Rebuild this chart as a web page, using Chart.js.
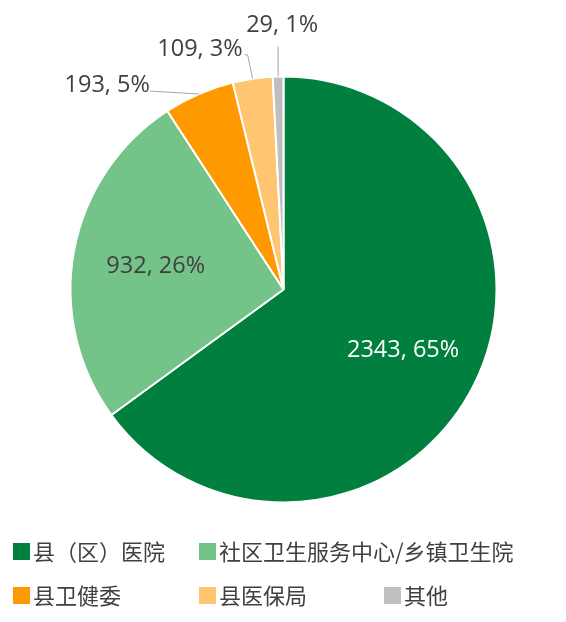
<!DOCTYPE html>
<html>
<head>
<meta charset="utf-8">
<script src="https://cdn.jsdelivr.net/npm/chart.js@4/dist/chart.umd.min.js"></script>
<style>
    html, body { margin: 0; padding: 0; background: #fff; }
    #wrap { position: relative; width: 566px; height: 622px; }
</style>
</head>
<body>
<div id="wrap"><canvas id="pie" width="566" height="622"></canvas></div>
<script>
const categories = ['县（区）医院', '社区卫生服务中心/乡镇卫生院', '县卫健委', '县医保局', '其他'];
const counts     = [2343, 932, 193, 109, 29];
const colors     = ['#007F3F', '#74C389', '#FF9900', '#FFC570', '#BFBFBF'];

const TEXT_COLOR = '#404040';
const LABEL_FONT = '23.5px "Open Sans", "Noto Sans CJK SC", sans-serif';
const LEGEND_FONT = '22px "Noto Sans CJK SC", sans-serif';

// where each data label goes: inside the slice, or pulled out with a leader line
const labelLayout = [
    { inside: true, frac: 0.63, color: '#ffffff' },
    { inside: true, frac: 0.61, color: TEXT_COLOR },
    { dx: -49, dy: -3,  align: 'right',  tx: 0,  ty: 1 },
    { dx: -5,  dy: -24, align: 'right',  tx: -5, ty: 1, tail: -3 },
    { dx: 0,   dy: -30, align: 'center', tx: 4,  ty: -15 }
];

// legend grid: 3 columns, 2 rows
const legendCols = [13, 199, 384];
const legendRows = [543, 587];
const legendSlots = [[0, 0], [1, 0], [0, 1], [1, 1], [2, 1]];

const total = counts.reduce((s, v) => s + v, 0);
const labelText = i => `${counts[i]}, ${Math.round(counts[i] / total * 100)}%`;

const pieLabels = {
    id: 'pieLabels',
    afterDatasetsDraw(chart) {
        const ctx = chart.ctx;
        const arcs = chart.getDatasetMeta(0).data;
        ctx.save();
        ctx.font = LABEL_FONT;
        arcs.forEach((arc, i) => {
            const lay = labelLayout[i];
            const mid = (arc.startAngle + arc.endAngle) / 2;
            const r = arc.outerRadius;
            if (lay.inside) {
                ctx.fillStyle = lay.color;
                ctx.textAlign = 'center';
                ctx.textBaseline = 'middle';
                ctx.fillText(labelText(i), arc.x + Math.cos(mid) * r * lay.frac,
                                           arc.y + Math.sin(mid) * r * lay.frac);
                return;
            }
            const ex = arc.x + Math.cos(mid) * r;
            const ey = arc.y + Math.sin(mid) * r;
            const lx = ex + lay.dx;
            const ly = ey + lay.dy;
            ctx.strokeStyle = '#A6A6A6';
            ctx.lineWidth = 1;
            ctx.beginPath();
            ctx.moveTo(ex, ey);
            ctx.lineTo(lx, ly);
            if (lay.tail) ctx.lineTo(lx + lay.tail, ly);
            ctx.stroke();
            ctx.fillStyle = TEXT_COLOR;
            ctx.textAlign = lay.align;
            ctx.textBaseline = 'alphabetic';
            ctx.fillText(labelText(i), lx + lay.tx, ly + lay.ty);
        });
        ctx.restore();
    }
};

const gridLegend = {
    id: 'gridLegend',
    afterDraw(chart) {
        const ctx = chart.ctx;
        ctx.save();
        ctx.font = LEGEND_FONT;
        ctx.textBaseline = 'middle';
        ctx.textAlign = 'left';
        categories.forEach((name, i) => {
            const [c, r] = legendSlots[i];
            const x = legendCols[c], y = legendRows[r];
            ctx.fillStyle = colors[i];
            ctx.fillRect(x, y, 17, 17);
            ctx.fillStyle = TEXT_COLOR;
            ctx.fillText(name, x + 20, y + 9);
        });
        ctx.restore();
    }
};

new Chart(document.getElementById('pie'), {
    type: 'pie',
    data: {
        labels: categories,
        datasets: [{
            data: counts,
            backgroundColor: colors,
            borderColor: '#ffffff',
            borderWidth: 2
        }]
    },
    options: {
        responsive: false,
        animation: false,
        radius: 213,
        layout: { padding: { left: 71, right: 70, top: 76, bottom: 119 } },
        plugins: {
            legend: { display: false },
            tooltip: { enabled: false }
        }
    },
    plugins: [pieLabels, gridLegend]
});
</script>
</body>
</html>
